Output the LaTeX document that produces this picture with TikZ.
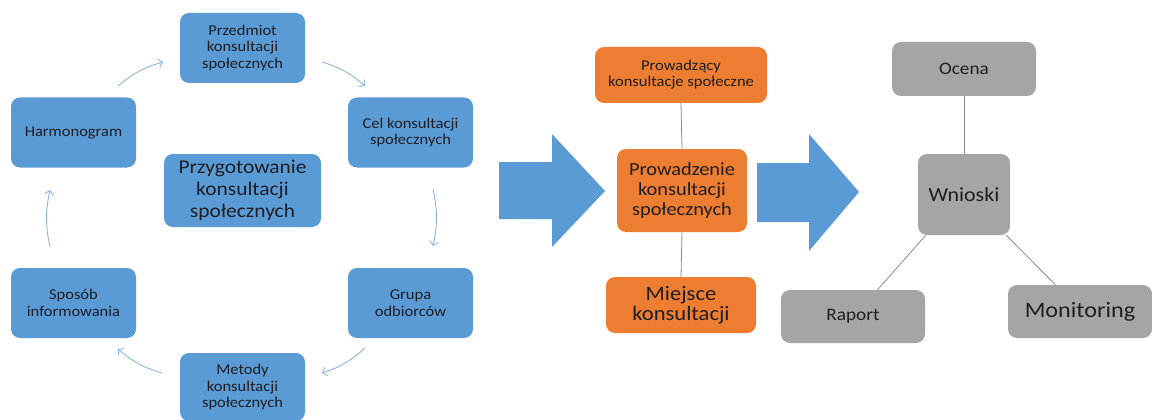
\documentclass[tikz,border=0pt]{standalone}
\usepackage{fontspec}
\setmainfont{Carlito}[FakeStretch=1.1]
\usetikzlibrary{arrows.meta,calc}
\definecolor{bl}{HTML}{5B9BD5}
\definecolor{orn}{HTML}{ED7D31}
\definecolor{gr}{HTML}{A5A5A5}
\definecolor{arr}{HTML}{8DB3DC}
\definecolor{txt}{HTML}{1E1E24}
\definecolor{ln}{HTML}{8A8A8A}
\tikzset{
  box/.style={rounded corners=9pt, inner sep=0pt, align=center, text=txt},
  bluebox/.style={box, fill=bl, minimum width=125pt, minimum height=70pt, font=\fontsize{15}{16.5}\selectfont},
  orbox/.style={box, fill=orn},
  grbox/.style={box, fill=gr},
  cyc/.style={draw=arr, line width=0.9pt, -{Straight Barb[length=4pt,width=9pt]}, bend left=12},
  conn/.style={draw=ln, line width=0.8pt},
  bigarrow/.style={fill=bl}
}
\begin{document}
\begin{tikzpicture}[x=1pt,y=-1pt]
\useasboundingbox (0,0) rectangle (1152,420);
\fill[white] (0,0) rectangle (1152,420);
% left cycle
\node[bluebox] (przed) at (242.5,48) {Przedmiot\\konsultacji\\społecznych};
\node[bluebox] (harm) at (73.5,132.5) {Harmonogram};
\node[bluebox] (cel) at (410.5,132.5) {Cel konsultacji\\społecznych};
\node[bluebox] (spos) at (73.5,303) {Sposób\\informowania};
\node[bluebox] (grupa) at (410.5,303) {Grupa\\odbiorców};
\node[bluebox, minimum height=68pt] (met) at (242.5,387) {Metody\\konsultacji\\społecznych};
\node[box, fill=bl, minimum width=157pt, minimum height=73pt, font=\fontsize{19.5}{22}\selectfont] (przyg) at (242.5,190.5) {Przygotowanie\\konsultacji\\społecznych};
\coordinate (a1s) at (118,86); \coordinate (a1e) at (163,62);
\coordinate (a2s) at (322,62); \coordinate (a2e) at (365,86);
\coordinate (a3s) at (433,189); \coordinate (a3e) at (433,246);
\coordinate (a4s) at (365,348); \coordinate (a4e) at (322,373);
\coordinate (a5s) at (162,373); \coordinate (a5e) at (118,349);
\coordinate (a6s) at (50,247); \coordinate (a6e) at (50,190);
\draw[cyc] (a1s) to (a1e);
\draw[cyc] (a2s) to (a2e);
\draw[cyc] (a3s) to (a3e);
\draw[cyc] (a4s) to (a4e);
\draw[cyc] (a5s) to (a5e);
\draw[cyc] (a6s) to (a6e);
% big arrows
\fill[bigarrow] (499,162) -- (552,162) -- (552,134) -- (605,191) -- (552,247) -- (552,219) -- (499,219) -- cycle;
\fill[bigarrow] (757,163) -- (809,163) -- (809,134) -- (859,192) -- (809,251) -- (809,222) -- (757,222) -- cycle;
% orange
\node[orbox, minimum width=172pt, minimum height=56pt, font=\fontsize{15}{16}\selectfont] (prow) at (681,75) {Prowadzący\\konsultacje społeczne};
\node[orbox, minimum width=130pt, minimum height=83pt, font=\fontsize{18.5}{20}\selectfont] (prowc) at (682,190.5) {Prowadzenie\\konsultacji\\społecznych};
\node[orbox, minimum width=150pt, minimum height=56pt, font=\fontsize{20.5}{20.5}\selectfont] (miej) at (681,305) {Miejsce\\konsultacji};
\draw[conn] (prow.south) -- (prowc.north);
\draw[conn] (prowc.south) -- (miej.north);
% gray
\node[grbox, minimum width=144pt, minimum height=54pt, font=\fontsize{17.5}{19}\selectfont] (ocena) at (964,69) {\raisebox{-2pt}{Ocena}};
\node[grbox, minimum width=92pt, minimum height=81pt, font=\fontsize{20}{22}\selectfont] (wn) at (964,194.5) {Wnioski};
\node[grbox, minimum width=144pt, minimum height=53pt, font=\fontsize{17.5}{19}\selectfont] (rap) at (853,316.5) {Raport};
\node[grbox, minimum width=144pt, minimum height=53pt, font=\fontsize{22}{24}\selectfont] (mon) at (1080,311.5) {Monitoring};
\draw[conn] (ocena.south) -- (wn.north);
\draw[conn] ([xshift=8pt]wn.south west) -- ($(rap.north west)!0.67!(rap.north east)$);
\draw[conn] ([xshift=-4pt]wn.south east) -- ($(mon.north west)!0.33!(mon.north east)$);
\end{tikzpicture}
\end{document}
